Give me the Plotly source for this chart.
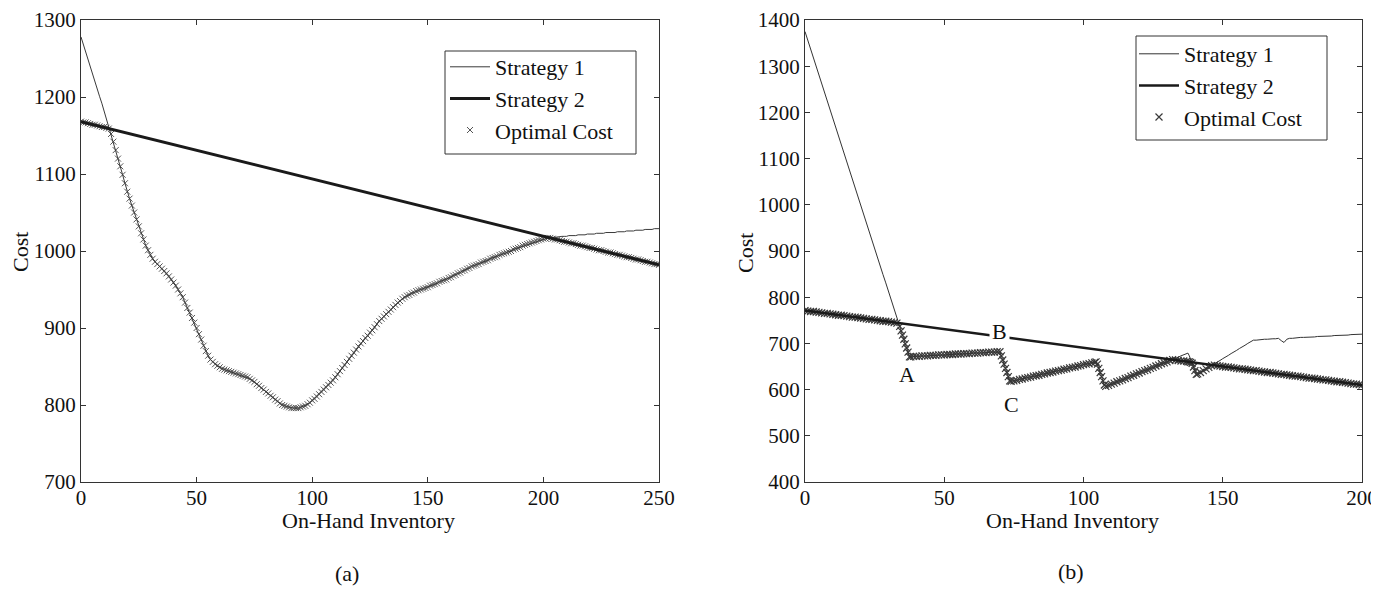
import plotly.graph_objects as go

# ---------------- data ----------------
# Panel (a)
left_x = list(range(0, 251))
left_s1 = [
    1278, 1268, 1259, 1249, 1240, 1230, 1221, 1211, 1201, 1192,
    1182, 1172, 1162, 1152, 1142, 1131, 1120, 1110, 1099, 1088,
    1077, 1068, 1059, 1050, 1041, 1032, 1023, 1015, 1007, 1001,
    995, 990, 986, 983, 980, 977, 974, 971, 967, 963,
    959, 955, 950, 945, 940, 933, 926, 920, 913, 907,
    900, 892, 885, 877, 870, 864, 859, 856, 853, 851,
    849, 847, 846, 845, 844, 843, 842, 841, 840, 839,
    838, 837, 836, 834, 832, 830, 827, 825, 822, 820,
    817, 815, 812, 810, 807, 805, 802, 800, 799, 798,
    797, 796, 796, 796, 796, 797, 798, 799, 801, 803,
    806, 808, 811, 814, 817, 820, 823, 826, 829, 832,
    836, 840, 844, 848, 852, 856, 860, 864, 868, 872,
    876, 880, 883, 887, 890, 894, 897, 901, 905, 909,
    912, 915, 918, 921, 924, 927, 930, 933, 935, 938,
    940, 942, 943, 945, 946, 948, 949, 950, 951, 952,
    953, 955, 956, 957, 958, 960, 961, 962, 963, 965,
    966, 968, 969, 971, 972, 974, 975, 977, 978, 980,
    981, 982, 983, 985, 986, 987, 988, 990, 991, 992,
    993, 995, 996, 997, 998, 999, 1000, 1002, 1003, 1004,
    1005, 1007, 1008, 1009, 1010, 1011, 1012, 1013, 1014, 1015,
    1016, 1016, 1017, 1017, 1018, 1018, 1018, 1019, 1019, 1019,
    1019, 1020, 1020, 1020, 1020, 1021, 1021, 1021, 1021, 1022,
    1022, 1022, 1022, 1023, 1023, 1023, 1023, 1024, 1024, 1024,
    1024, 1024, 1025, 1025, 1025, 1025, 1026, 1026, 1026, 1026,
    1027, 1027, 1027, 1027, 1028, 1028, 1028, 1028, 1029, 1029,
    1029,
]
left_s2_x = [0, 250]
left_s2 = [1168, 982]
left_opt = [
    1168, 1167, 1167, 1166, 1165, 1164, 1164, 1163, 1162, 1161,
    1161, 1160, 1159, 1152, 1142, 1131, 1120, 1110, 1099, 1088,
    1077, 1068, 1059, 1050, 1041, 1032, 1023, 1015, 1007, 1001,
    995, 990, 986, 983, 980, 977, 974, 971, 967, 963,
    959, 955, 950, 945, 940, 933, 926, 920, 913, 907,
    900, 892, 885, 877, 870, 864, 859, 856, 853, 851,
    849, 847, 846, 845, 844, 843, 842, 841, 840, 839,
    838, 837, 836, 834, 832, 830, 827, 825, 822, 820,
    817, 815, 812, 810, 807, 805, 802, 800, 799, 798,
    797, 796, 796, 796, 796, 797, 798, 799, 801, 803,
    806, 808, 811, 814, 817, 820, 823, 826, 829, 832,
    836, 840, 844, 848, 852, 856, 860, 864, 868, 872,
    876, 880, 883, 887, 890, 894, 897, 901, 905, 909,
    912, 915, 918, 921, 924, 927, 930, 933, 935, 938,
    940, 942, 943, 945, 946, 948, 949, 950, 951, 952,
    953, 955, 956, 957, 958, 960, 961, 962, 963, 965,
    966, 968, 969, 971, 972, 974, 975, 977, 978, 980,
    981, 982, 983, 985, 986, 987, 988, 990, 991, 992,
    993, 995, 996, 997, 998, 999, 1000, 1002, 1003, 1004,
    1005, 1007, 1008, 1009, 1010, 1011, 1012, 1013, 1014, 1015,
    1016, 1016, 1017, 1017, 1016, 1015, 1015, 1014, 1013, 1012,
    1012, 1011, 1010, 1010, 1009, 1008, 1007, 1007, 1006, 1005,
    1004, 1004, 1003, 1002, 1001, 1001, 1000, 999, 998, 998,
    997, 996, 995, 995, 994, 993, 992, 992, 991, 990,
    989, 989, 988, 987, 986, 986, 985, 984, 983, 983,
    982,
]

# Panel (b)
right_x = (list(range(0, 35)) + [34.5, 35, 35.5, 36, 36.5, 37, 37.5]
           + list(range(38, 71)) + [70.5, 71, 71.5, 72, 72.5, 73, 73.5]
           + list(range(74, 105)) + [104.5, 105, 105.5, 106, 106.5, 107, 107.5]
           + list(range(108, 138)) + [137.5, 138, 138.5, 139, 139.5, 140, 140.5]
           + list(range(141, 201)))
right_s1 = [
    # 0..34
    1375, 1356, 1337, 1319, 1300, 1281, 1262, 1244, 1225, 1206,
    1187, 1169, 1150, 1131, 1112, 1093, 1075, 1056, 1037, 1018,
    1000, 981, 962, 943, 925, 906, 887, 868, 849, 831,
    812, 793, 774, 756, 737,
    # 34.5..37.5
    727, 718, 709, 699, 690, 681, 671,
    # 38..70
    671, 672, 672, 672, 673, 673, 673, 674, 674, 674,
    675, 675, 675, 676, 676, 676, 677, 677, 677, 678,
    678, 678, 679, 679, 679, 680, 680, 680, 681, 681,
    681, 682, 682,
    # 70.5..73.5
    673, 664, 655, 646, 637, 628, 619,
    # 74..104
    618, 619, 620, 622, 623, 625, 626, 627, 629, 630,
    631, 633, 634, 636, 637, 638, 640, 641, 642, 644,
    645, 647, 648, 649, 651, 652, 654, 655, 656, 658,
    659,
    # 104.5..107.5
    660, 655, 646, 637, 628, 619, 610,
    # 108..137
    607, 609, 612, 614, 617, 619, 621, 624, 626, 629,
    631, 634, 636, 639, 641, 643, 646, 648, 651, 653,
    656, 658, 660, 663, 665, 668, 670, 673, 675, 678,
    # 137.5..140.5
    679, 673, 665, 657, 649, 641, 633,
    # 141..200
    634, 637, 641, 645, 648, 652, 656, 659, 663, 667,
    670, 674, 678, 681, 685, 689, 692, 696, 700, 703,
    707, 707, 708, 708, 709, 709, 710, 710, 710, 711,
    706, 702, 709, 711, 711, 712, 712, 713, 713, 713,
    714, 714, 714, 715, 715, 715, 716, 716, 716, 717,
    717, 717, 718, 718, 718, 719, 719, 719, 720, 720,
]
right_s2_x = [0, 200]
right_s2 = [771, 610]
right_opt = [
    # 0..34
    771, 770, 769, 769, 768, 767, 766, 765, 765, 764,
    763, 762, 761, 761, 760, 759, 758, 757, 757, 756,
    755, 754, 753, 752, 752, 751, 750, 749, 748, 748,
    747, 746, 745, 744, 737,
    # 34.5..37.5
    727, 718, 709, 699, 690, 681, 671,
    # 38..70
    671, 672, 672, 672, 673, 673, 673, 674, 674, 674,
    675, 675, 675, 676, 676, 676, 677, 677, 677, 678,
    678, 678, 679, 679, 679, 680, 680, 680, 681, 681,
    681, 682, 682,
    # 70.5..73.5
    673, 664, 655, 646, 637, 628, 619,
    # 74..104
    618, 619, 620, 622, 623, 625, 626, 627, 629, 630,
    631, 633, 634, 636, 637, 638, 640, 641, 642, 644,
    645, 647, 648, 649, 651, 652, 654, 655, 656, 658,
    659,
    # 104.5..107.5
    660, 655, 646, 637, 628, 619, 610,
    # 108..137
    607, 609, 612, 614, 617, 619, 621, 624, 626, 629,
    631, 634, 636, 639, 641, 643, 646, 648, 651, 653,
    656, 658, 660, 663, 665, 664, 663, 662, 662, 661,
    # 137.5..140.5
    660, 660, 659, 657, 649, 641, 633,
    # 141..200
    634, 637, 641, 645, 648, 652, 653, 652, 651, 650,
    649, 649, 648, 647, 646, 645, 645, 644, 643, 642,
    641, 641, 640, 639, 638, 637, 637, 636, 635, 634,
    633, 633, 632, 631, 630, 629, 629, 628, 627, 626,
    625, 625, 624, 623, 622, 621, 621, 620, 619, 618,
    617, 617, 616, 615, 614, 613, 612, 612, 611, 610,
]

assert len(left_x) == len(left_s1) == len(left_opt)
assert len(right_x) == len(right_s1) == len(right_opt), (len(right_x), len(right_s1), len(right_opt))

labels_b = ["A", "B", "C"]
labels_b_x = [36.5, 70, 74.2]
labels_b_y = [632, 725, 567]

# ---------------- layout helpers ----------------
# the page body has an 8px default margin, so the figure starts at (8, 8) on screen
OFF = 8
SW, SH = 1379, 589                      # screen size
W, H = SW - OFF, SH - OFF               # figure size
# plot area in screen pixels
SL, SR, ST, SB = 81, 1362, 20, 482
ML, MT = SL - OFF, ST - OFF
MR, MB = W - (SR - OFF), H - (SB - OFF)
PW, PH = W - ML - MR, H - MT - MB


def px(x):
    """screen x pixel -> paper fraction"""
    return (x - SL) / PW


def py(y):
    """screen y pixel -> paper fraction"""
    return (SB - y) / PH


FONT = "Liberation Serif, Times New Roman, serif"
INK = "#111111"
AX = "#333333"

fig = go.Figure()

# Panel (a)
fig.add_trace(go.Scatter(x=left_x, y=left_opt, mode="markers", name="Optimal Cost",
                         legendrank=3, legend="legend",
                         marker=dict(symbol="x-thin", size=6, color="#555555",
                                     line=dict(width=1, color="#555555")),
                         xaxis="x", yaxis="y"))
fig.add_trace(go.Scatter(x=left_x, y=left_s1, mode="lines", name="Strategy 1",
                         legendrank=1, legend="legend",
                         line=dict(color="#3a3a3a", width=1), xaxis="x", yaxis="y"))
fig.add_trace(go.Scatter(x=left_s2_x, y=left_s2, mode="lines", name="Strategy 2",
                         legendrank=2, legend="legend",
                         line=dict(color="#1a1a1a", width=3), xaxis="x", yaxis="y"))

# Panel (b)
fig.add_trace(go.Scatter(x=right_x, y=right_opt, mode="markers", name="Optimal Cost",
                         legendrank=3, legend="legend2",
                         marker=dict(symbol="x-thin", size=7, color="#3a3a3a",
                                     line=dict(width=1.2, color="#3a3a3a")),
                         xaxis="x2", yaxis="y2"))
fig.add_trace(go.Scatter(x=right_x, y=right_s1, mode="lines", name="Strategy 1",
                         legendrank=1, legend="legend2",
                         line=dict(color="#333333", width=1), xaxis="x2", yaxis="y2"))
fig.add_trace(go.Scatter(x=right_s2_x, y=right_s2, mode="lines", name="Strategy 2",
                         legendrank=2, legend="legend2",
                         line=dict(color="#1a1a1a", width=2.5), xaxis="x2", yaxis="y2"))

axis_common = dict(showgrid=False, zeroline=False, showline=True, linecolor=AX,
                   linewidth=1.2, mirror="ticks", ticks="inside", ticklen=5,
                   tickwidth=1, tickcolor=AX, automargin=False,
                   tickfont=dict(family=FONT, size=21, color=INK),
                   tickformat="d")

legend_common = dict(xanchor="left", yanchor="top", bgcolor="rgba(0,0,0,0)",
                     borderwidth=0, font=dict(family=FONT, size=22, color=INK),
                     itemwidth=40, traceorder="normal")

fig.update_layout(
    width=W, height=H,
    margin=dict(l=ML, r=MR, t=MT, b=MB, autoexpand=False),
    paper_bgcolor="white", plot_bgcolor="white",
    font=dict(family=FONT, color=INK),
    xaxis=dict(domain=[0, (659 - SL) / PW], range=[0, 250], dtick=50, tick0=0,
               anchor="y", ticklabelstandoff=-3, **axis_common),
    yaxis=dict(domain=[0, 1], range=[700, 1300], dtick=100, tick0=700,
               anchor="x", **axis_common),
    xaxis2=dict(domain=[(805 - SL) / PW, 1], range=[0, 200], dtick=50, tick0=0,
                anchor="y2", ticklabelstandoff=-3, **axis_common),
    yaxis2=dict(domain=[0, 1], range=[400, 1400], dtick=100, tick0=400,
                anchor="x2", **axis_common),
    legend=dict(x=px(445), y=py(46), **legend_common),
    legend2=dict(x=px(1134), y=py(33), **legend_common),
    showlegend=True,
)

# legend frames
for (x0, y0, x1, y1) in [(445, 51, 636, 154), (1136, 36, 1327, 140)]:
    fig.add_shape(type="rect", xref="paper", yref="paper",
                  x0=px(x0), x1=px(x1), y0=py(y1), y1=py(y0),
                  line=dict(color=AX, width=1), fillcolor="white", layer="above")

# axis titles and captions
txt = dict(family=FONT, size=22, color=INK)
for (x, y, s, ang) in [(368, 520, "On-Hand Inventory", 0), (1072, 520, "On-Hand Inventory", 0),
                       (20, 252, "Cost", -90), (746, 253, "Cost", -90),
                       (347, 573, "(a)", 0), (1071, 571, "(b)", 0)]:
    fig.add_annotation(x=px(x), y=py(y), xref="paper", yref="paper", text=s,
                       showarrow=False, textangle=ang, font=txt,
                       xanchor="center", yanchor="middle")

for lab, lx, ly in zip(labels_b, labels_b_x, labels_b_y):
    fig.add_annotation(x=lx, y=ly, xref="x2", yref="y2", text=lab, showarrow=False,
                       font=txt, bgcolor="white" if lab == "B" else "rgba(0,0,0,0)",
                       borderpad=2, xanchor="center", yanchor="middle")

fig.write_html("out.html")
